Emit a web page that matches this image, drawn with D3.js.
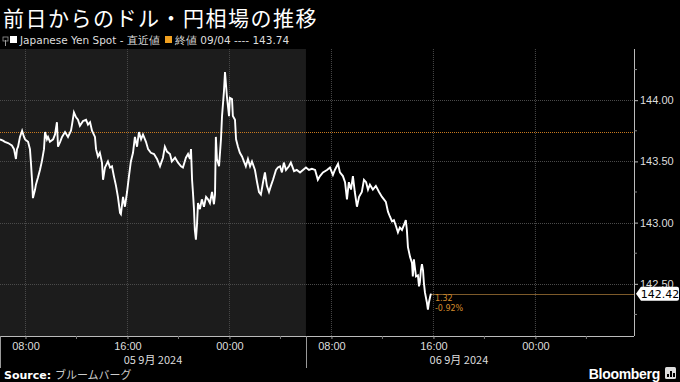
<!DOCTYPE html>
<html lang="ja">
<head>
<meta charset="UTF-8">
<title>前日からのドル・円相場の推移</title>
<script src="https://d3js.org/d3.v7.min.js"></script>
<style>
  body { margin: 0; background: #000; }
  svg { display: block; background: #000; font-family: "DejaVu Sans", sans-serif; }
  .jp { font-family: "Noto Sans CJK JP", sans-serif; }
</style>
</head>
<body>
<div id="chart"></div>
<script>
  // hours after 06:00 on the first day, and USD/JPY spot
  const hours = [0, 0.24, 0.39, 0.63, 0.78, 0.94, 1.10, 1.25, 1.33, 1.41, 1.57, 1.73, 1.88, 1.96, 2.20, 2.35, 2.43, 2.51, 2.59, 2.75,
    2.82, 2.98, 3.14, 3.29, 3.45, 3.53, 3.69, 3.76, 3.92, 4.16, 4.31, 4.47, 4.55, 4.71, 4.86, 5.10, 5.33, 5.57, 5.65, 5.80,
    5.96, 6.12, 6.27, 6.51, 6.75, 6.90, 7.06, 7.22, 7.45, 7.53, 7.69, 7.84, 8.00, 8.08, 8.24, 8.47, 8.63, 8.78, 8.94, 9.10,
    9.25, 9.41, 9.49, 9.65, 9.80, 9.96, 10.12, 10.27, 10.43, 10.59, 10.75, 10.90, 11.06, 11.22, 11.45, 11.61, 11.84, 12.08, 12.31, 12.55,
    12.78, 12.94, 13.10, 13.33, 13.49, 13.73, 13.96, 14.20, 14.35, 14.59, 14.75, 14.90, 14.98, 15.06, 15.14, 15.22, 15.29, 15.37, 15.45, 15.53,
    15.69, 15.84, 16.00, 16.16, 16.31, 16.47, 16.63, 16.78, 16.86, 16.94, 17.02, 17.18, 17.33, 17.41, 17.57, 17.65, 17.80, 17.96, 18.04, 18.20,
    18.27, 18.43, 18.51, 18.67, 18.82, 18.98, 19.14, 19.29, 19.45, 19.61, 19.76, 20.00, 20.16, 20.31, 20.47, 20.63, 20.78, 20.94, 21.10, 21.25,
    21.41, 21.65, 21.80, 21.96, 22.12, 22.27, 22.43, 22.67, 22.82, 23.06, 23.29, 23.53, 23.76, 24.00, 24.24, 24.47, 24.71, 24.94, 25.10, 25.33,
    25.65, 25.88, 26.12, 26.27, 26.51, 26.67, 26.90, 27.06, 27.22, 27.37, 27.53, 27.69, 27.84, 28.00, 28.16, 28.39, 28.55, 28.71, 28.86, 29.02,
    29.25, 29.49, 29.73, 29.96, 30.12, 30.27, 30.43, 30.59, 30.75, 30.90, 31.06, 31.22, 31.37, 31.53, 31.69, 31.84, 31.92, 32.00, 32.16, 32.31,
    32.39, 32.47, 32.63, 32.78, 32.86, 32.94, 33.02, 33.10, 33.18, 33.25, 33.33, 33.49, 33.57, 33.65, 33.73, 33.80];
  const prices = [143.68, 143.67, 143.66, 143.65, 143.64, 143.63, 143.60, 143.52, 143.60, 143.62, 143.70, 143.75, 143.70, 143.68, 143.66, 143.60, 143.48, 143.34, 143.20, 143.27,
    143.31, 143.37, 143.43, 143.50, 143.60, 143.74, 143.68, 143.70, 143.66, 143.68, 143.72, 143.82, 143.62, 143.66, 143.70, 143.74, 143.70, 143.75, 143.80, 143.90,
    143.86, 143.84, 143.79, 143.83, 143.84, 143.80, 143.82, 143.75, 143.70, 143.60, 143.54, 143.57, 143.49, 143.35, 143.45, 143.50, 143.45, 143.46, 143.38, 143.30,
    143.21, 143.08, 143.07, 143.21, 143.13, 143.25, 143.38, 143.50, 143.57, 143.70, 143.62, 143.74, 143.68, 143.72, 143.66, 143.60, 143.57, 143.56, 143.52, 143.46,
    143.53, 143.62, 143.58, 143.56, 143.50, 143.53, 143.49, 143.46, 143.45, 143.53, 143.56, 143.52, 143.60, 143.35, 143.25, 143.11, 142.94, 142.86, 142.98, 143.16,
    143.11, 143.19, 143.13, 143.21, 143.19, 143.16, 143.25, 143.15, 143.23, 143.70, 143.52, 143.46, 143.68, 143.87, 144.07, 144.23, 144.03, 143.87, 144.02, 144.01,
    143.87, 143.84, 143.68, 143.62, 143.57, 143.54, 143.50, 143.46, 143.52, 143.46, 143.50, 143.43, 143.33, 143.25, 143.23, 143.33, 143.41, 143.30, 143.25, 143.30,
    143.35, 143.43, 143.45, 143.46, 143.41, 143.49, 143.43, 143.46, 143.49, 143.42, 143.43, 143.41, 143.43, 143.45, 143.43, 143.44, 143.43, 143.35, 143.38, 143.41,
    143.43, 143.45, 143.39, 143.43, 143.48, 143.41, 143.38, 143.33, 143.19, 143.33, 143.27, 143.38, 143.25, 143.13, 143.21, 143.25, 143.35, 143.33, 143.27, 143.31,
    143.27, 143.30, 143.25, 143.21, 143.19, 143.17, 143.09, 143.05, 143.01, 143.02, 142.97, 142.92, 142.96, 142.94, 142.98, 143.02, 142.94, 142.80, 142.72, 142.67,
    142.56, 142.70, 142.56, 142.57, 142.48, 142.51, 142.61, 142.66, 142.61, 142.51, 142.43, 142.35, 142.29, 142.35, 142.39, 142.42];

  const yTicks = [142.5, 143.0, 143.5, 144.0];
  const prevClose = 143.74;
  const lastPrice = 142.42;
  const dayLabels = ["05 9月 2024", "06 9月 2024"];
  const legendText = "Japanese Yen Spot - 直近値";
  const closeText = "終値 09/04 ---- 143.74";
  const changeText = ["1.32", "-0.92%"];

  const W = 680, H = 382;
  const plot = { left: 0, right: 634, top: 49, bottom: 336 };

  const start = new Date(2024, 8, 5, 6, 0);
  const end = d3.timeMinute.offset(start, 2984);
  const data = hours.map((h, i) => ({ t: d3.timeMinute.offset(start, Math.round(h * 60)), v: prices[i] }));

  const svg = d3.select("#chart").append("svg")
    .attr("width", W)
    .attr("height", H);

  const x = d3.scaleTime()
    .domain([start, end])
    .range([plot.left, plot.right]);

  const y = d3.scaleLinear()
    .domain([142.074, 144.418])
    .range([plot.bottom, plot.top]);

  // previous-day shaded block
  const dayEnd = d3.timeHour.offset(start, 24);
  svg.append("rect")
    .attr("x", x(start))
    .attr("y", plot.top)
    .attr("width", x(dayEnd) - x(start))
    .attr("height", plot.bottom - plot.top)
    .attr("fill", "#1c1c1c");

  // grid
  const majorX = x.ticks(d3.timeHour.every(8));
  svg.append("g").selectAll("line")
    .data(majorX)
    .join("line")
    .attr("x1", d => x(d)).attr("x2", d => x(d))
    .attr("y1", plot.top).attr("y2", plot.bottom)
    .attr("stroke", "#4a4a4a")
    .attr("stroke-dasharray", "1,1");

  svg.append("g").selectAll("line")
    .data(yTicks)
    .join("line")
    .attr("x1", plot.left).attr("x2", plot.right)
    .attr("y1", d => Math.round(y(d)) + 0.5).attr("y2", d => Math.round(y(d)) + 0.5)
    .attr("stroke", "#4a4a4a")
    .attr("stroke-dasharray", "1,1");

  // previous close line
  svg.append("line")
    .attr("x1", plot.left).attr("x2", plot.right)
    .attr("y1", Math.round(y(prevClose)) + 0.5).attr("y2", Math.round(y(prevClose)) + 0.5)
    .attr("stroke", "#c7791f")
    .attr("stroke-dasharray", "1,1");

  // last price line
  const last = data[data.length - 1];
  svg.append("line")
    .attr("x1", x(last.t)).attr("x2", plot.right)
    .attr("y1", Math.round(y(lastPrice)) + 0.5).attr("y2", Math.round(y(lastPrice)) + 0.5)
    .attr("stroke", "#7d5a2a");

  // price line
  svg.append("path")
    .datum(data)
    .attr("fill", "none")
    .attr("stroke", "#fff")
    .attr("stroke-width", 1.9)
    .attr("stroke-linejoin", "miter")
    .attr("d", d3.line().x(d => x(d.t)).y(d => y(d.v)));

  // change annotation
  svg.append("g").selectAll("text")
    .data(changeText)
    .join("text")
    .attr("x", x(last.t) + 4)
    .attr("y", (d, i) => y(lastPrice) + 7 + i * 10)
    .attr("fill", "#d38b2c")
    .style("font-size", "8px")
    .text(d => d);

  // right axis (142.50 label sits partly under the last-price tag, as in the source)
  const yAxis = svg.append("g")
    .attr("transform", `translate(${plot.right},0)`)
    .call(d3.axisRight(y).tickValues(yTicks).tickSize(4).tickPadding(2).tickFormat(d3.format(".2f")));
  yAxis.select(".domain").attr("stroke", "#bbb").attr("d", `M0.5,${plot.top}V${plot.bottom}`);
  yAxis.selectAll(".tick line").attr("stroke", "#bbb");
  yAxis.selectAll("text").attr("fill", "#ddd").style("font-size", "11px");
  svg.append("g")
    .attr("transform", `translate(${plot.right},0)`)
    .selectAll("line")
    .data(d3.range(142.25, 144.5, 0.5))
    .join("line")
    .attr("x1", 0).attr("x2", 3)
    .attr("y1", d => y(d)).attr("y2", d => y(d))
    .attr("stroke", "#888");

  // bottom axis
  const xAxis = svg.append("g")
    .attr("transform", `translate(0,${plot.bottom})`)
    .call(d3.axisBottom(x).ticks(d3.timeHour.every(8)).tickSize(3).tickPadding(3).tickFormat(d3.timeFormat("%H:%M")));
  xAxis.select(".domain").attr("stroke", "#bbb").attr("d", `M${plot.left},0.5H${plot.right}`);
  xAxis.selectAll(".tick line").attr("stroke", "#999");
  xAxis.selectAll("text").attr("fill", "#ddd").style("font-size", "11px");
  svg.append("g")
    .attr("transform", `translate(0,${plot.bottom})`)
    .selectAll("line")
    .data(x.ticks(d3.timeHour.every(4)).filter(d => d.getHours() % 8 !== 0))
    .join("line")
    .attr("x1", d => x(d)).attr("x2", d => x(d))
    .attr("y1", 0).attr("y2", 3)
    .attr("stroke", "#777");

  // day separators and labels
  svg.append("g").selectAll("line")
    .data([start, dayEnd])
    .join("line")
    .attr("x1", d => Math.round(x(d)) + 0.5).attr("x2", d => Math.round(x(d)) + 0.5)
    .attr("y1", plot.bottom).attr("y2", 368)
    .attr("stroke", "#999");
  svg.append("g").selectAll("text")
    .data(dayLabels)
    .join("text")
    .attr("class", "jp")
    .attr("x", (d, i) => x(d3.timeHour.offset(start, 12 + 24 * i)))
    .attr("y", 364)
    .attr("text-anchor", "middle")
    .attr("fill", "#ddd")
    .style("font-size", "11px")
    .text(d => d);

  // last price tag
  const ly = y(lastPrice);
  svg.append("path")
    .attr("d", `M636,${ly} L641,${ly - 7} H677 Q679,${ly - 7} 679,${ly - 5} V${ly + 5} Q679,${ly + 7} 677,${ly + 7} H641 Z`)
    .attr("fill", "#fff");
  svg.append("text")
    .attr("x", 660)
    .attr("y", ly)
    .attr("dy", "0.36em")
    .attr("text-anchor", "middle")
    .attr("fill", "#000")
    .style("font-size", "11px")
    .text(d3.format(".2f")(lastPrice));

  // title and legend
  svg.append("text")
    .attr("class", "jp")
    .attr("x", 3)
    .attr("y", 26)
    .attr("fill", "#fff")
    .style("font-size", "21px")
    .style("letter-spacing", "1.5px")
    .text("前日からのドル・円相場の推移");

  svg.append("line").attr("x1", 5.5).attr("x2", 5.5).attr("y1", 40).attr("y2", 46).attr("stroke", "#999");
  svg.append("rect").attr("x", 3).attr("y", 37).attr("width", 5).attr("height", 4).attr("fill", "none").attr("stroke", "#999").attr("stroke-width", 0.8);
  svg.append("rect").attr("x", 10).attr("y", 36).attr("width", 7).attr("height", 7).attr("fill", "#fff");
  svg.append("text")
    .attr("x", 20).attr("y", 44)
    .attr("fill", "#ddd")
    .style("font-size", "10.5px")
    .text(legendText);
  svg.append("rect").attr("x", 165).attr("y", 36).attr("width", 7).attr("height", 7).attr("fill", "#f0a020");
  svg.append("text")
    .attr("x", 175).attr("y", 44)
    .attr("fill", "#ddd")
    .style("font-size", "10.5px")
    .text(closeText);

  // footer
  const src = svg.append("text").attr("x", 4).attr("y", 379).attr("fill", "#fff").style("font-size", "11px");
  src.append("tspan").style("font-weight", "bold").text("Source: ");
  src.append("tspan").attr("class", "jp").attr("fill", "#ccc").text("ブルームバーグ");

  svg.append("text")
    .attr("x", 660).attr("y", 379)
    .attr("text-anchor", "end")
    .attr("fill", "#fff")
    .style("font-family", "'Liberation Sans', sans-serif")
    .style("font-weight", "bold")
    .style("font-size", "14px")
    .style("letter-spacing", "-0.3px")
    .text("Bloomberg");
  svg.append("rect").attr("x", 665).attr("y", 367).attr("width", 11).attr("height", 12).attr("rx", 1.5).attr("fill", "#ddd");
  svg.append("g").selectAll("rect")
    .data([3, 6, 4])
    .join("rect")
    .attr("x", (d, i) => 667 + i * 3)
    .attr("y", d => 377 - d)
    .attr("width", 2)
    .attr("height", d => d)
    .attr("fill", "#000");
</script>
</body>
</html>
